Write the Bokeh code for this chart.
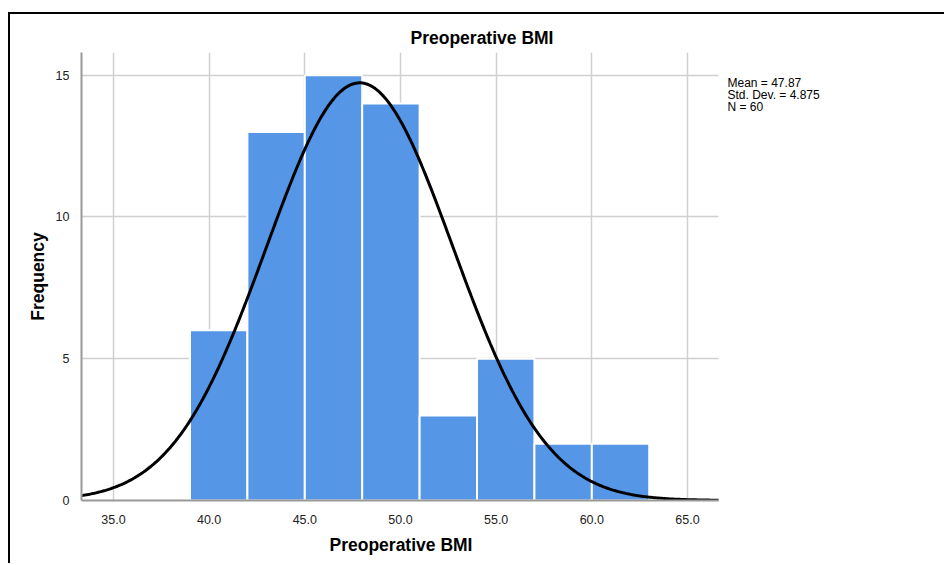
import numpy as np
from bokeh.plotting import figure
from bokeh.models import (Range1d, FixedTicker, PrintfTickFormatter, Label,
                          BoxAnnotation, Title)
from bokeh.embed import file_html
from bokeh.resources import INLINE

# ---- data ----
bin_edges = [39, 42, 45, 48, 51, 54, 57, 60, 63]
counts = [6, 13, 15, 14, 3, 5, 2, 2]
mean_bmi = 47.87
sd_bmi = 4.875
n_obs = 60
x_ticks = [35, 40, 45, 50, 55, 60, 65]
y_ticks = [0, 5, 10, 15]
stats_lines = ["Mean = 47.87", "Std. Dev. = 4.875", "N = 60"]

FONT = "Liberation Sans"
BAR = "#5596e6"

# visible axis extent
ax0, ax1 = 33.33, 66.62
y0, y1 = 0, 15.8

W, H = 936, 551
FL, FT, FB = 71, 38, 65            # borders (px)
axis_px = 637                       # pixel length of the visible x axis
frame_w = W - FL
px_per_x = axis_px / (ax1 - ax0)
x_end = ax0 + frame_w / px_per_x    # frame extends to the right edge for the stats text
px_per_y = (H - FT - FB) / (y1 - y0)

p = figure(width=W, height=H, output_backend="svg", toolbar_location=None,
           x_range=Range1d(ax0, x_end), y_range=Range1d(y0, y1),
           min_border_left=FL, min_border_top=FT, min_border_right=0,
           min_border_bottom=FB)
p.margin = (12, 0, 0, 8)
p.styles = {"border-left": "2px solid black", "border-top": "2px solid black"}
p.outline_line_color = None
p.background_fill_color = "white"
p.border_fill_color = "white"

# title
p.title.text = "Preoperative BMI"
p.title.text_font = FONT
p.title.text_font_size = "17.5px"
p.title.text_font_style = "bold"
p.title.align = "left"
p.title.offset = 329
p.title.text_color = "black"

# bars
lefts = bin_edges[:-1]
rights = bin_edges[1:]
p.quad(left=lefts, right=rights, bottom=[0] * len(counts), top=counts,
       fill_color=BAR, line_color="white", line_width=2)

# normal curve
xs = np.linspace(ax0, ax1, 400)
bw = bin_edges[1] - bin_edges[0]
ys = n_obs * bw / (sd_bmi * np.sqrt(2 * np.pi)) * np.exp(-0.5 * ((xs - mean_bmi) / sd_bmi) ** 2)
p.line(xs, ys, line_color="black", line_width=3)

# axes
p.xaxis.ticker = FixedTicker(ticks=x_ticks)
p.yaxis.ticker = FixedTicker(ticks=y_ticks)
p.xaxis.formatter = PrintfTickFormatter(format="%.1f")
p.xaxis.bounds = (ax0, ax1)
for ax in (p.xaxis, p.yaxis):
    ax.axis_line_color = "#999999"
    ax.axis_line_width = 2
    ax.major_tick_line_color = None
    ax.minor_tick_line_color = None
    ax.major_label_text_font = FONT
    ax.major_label_text_font_size = "12.5px"
    ax.major_label_text_color = "#222222"
    ax.axis_label_text_font = FONT
    ax.axis_label_text_font_size = "17.5px"
    ax.axis_label_text_font_style = "bold"
    ax.axis_label_text_color = "black"
p.yaxis.axis_label = "Frequency"
p.xaxis.major_label_standoff = 8
p.yaxis.major_label_standoff = 6
p.yaxis.axis_label_standoff = 5

# x-axis title, placed under the visible axis
xt = Title(text="Preoperative BMI", align="left", offset=248, text_font=FONT,
           text_font_size="17.5px", text_font_style="bold", text_color="black",
           standoff=12)
p.add_layout(xt, "below")

p.xgrid.ticker = FixedTicker(ticks=x_ticks)
p.ygrid.ticker = FixedTicker(ticks=y_ticks)
p.grid.grid_line_color = "#d0d0d0"
p.grid.grid_line_width = 1.5

# blank out the area right of the axis, where the stats text sits
p.add_layout(BoxAnnotation(left=ax1, fill_color="white", fill_alpha=1,
                           line_alpha=0, level="underlay"))

# stats text
for i, t in enumerate(stats_lines):
    p.add_layout(Label(x=ax1 + 9 / px_per_x, y=y1 - (23 + 12 * i) / px_per_y,
                       text=t, text_font=FONT, text_font_size="12px",
                       text_baseline="top", text_color="black"))

open("out.html", "w").write(file_html(p, INLINE))
